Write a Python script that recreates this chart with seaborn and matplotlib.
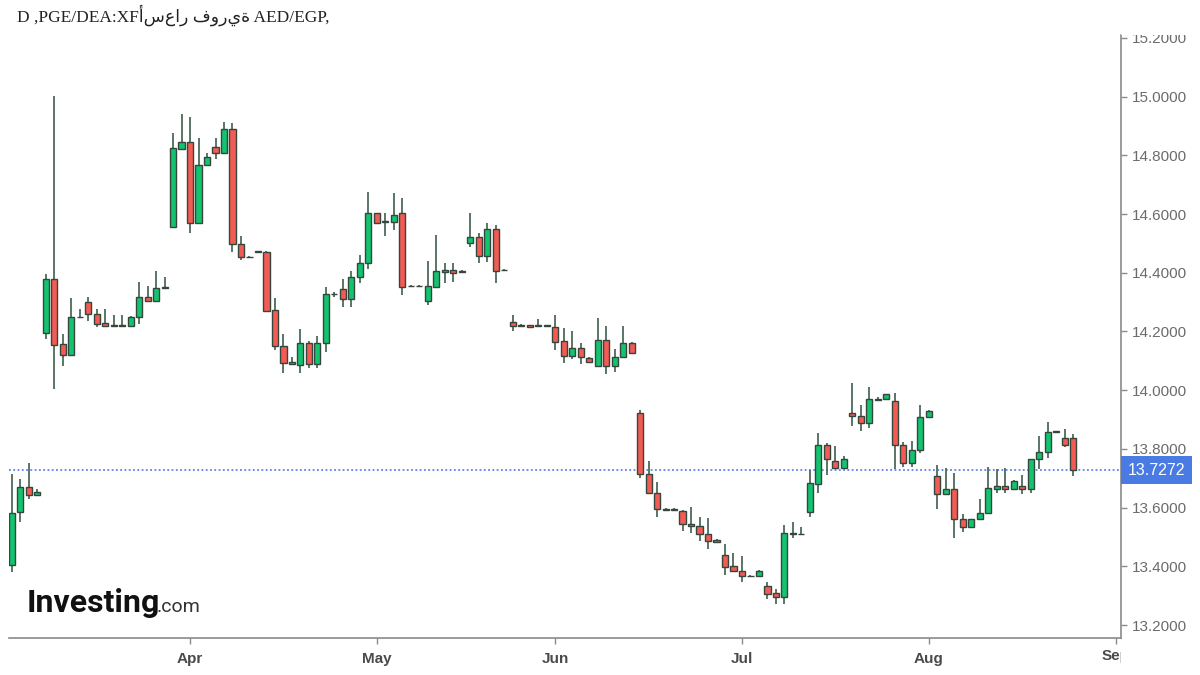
import numpy as np
import pandas as pd
import matplotlib
matplotlib.use("Agg")
import matplotlib.pyplot as plt
import seaborn as sns
from matplotlib.patches import Rectangle
from matplotlib.transforms import Bbox, TransformedBbox, blended_transform_factory, offset_copy

# AED/EGP daily candles, Mar -> late Aug
opens = [
    13.404, 13.586, 13.670, 13.643, 14.195, 14.379, 14.157, 14.120, 14.248, 14.300,
    14.260, 14.229, 14.223, 14.220, 14.220, 14.249, 14.318, 14.304, 14.348, 14.557,
    14.823, 14.846, 14.569, 14.767, 14.830, 14.807, 14.890, 14.498, 14.454, 14.470,
    14.472, 14.273, 14.151, 14.096, 14.085, 14.162, 14.089, 14.160, 14.326, 14.345,
    14.310, 14.387, 14.432, 14.603, 14.573, 14.574, 14.603, 14.354, 14.354, 14.304,
    14.353, 14.404, 14.410, 14.403, 14.501, 14.521, 14.458, 14.548, 14.408, 14.232,
    14.222, 14.221, 14.219, 14.219, 14.216, 14.168, 14.118, 14.145, 14.111, 14.083,
    14.171, 14.083, 14.112, 14.162, 13.923, 13.714, 13.649, 13.595, 13.593, 13.589,
    13.544, 13.537, 13.510, 13.490, 13.439, 13.401, 13.384, 13.366, 13.367, 13.333,
    13.308, 13.294, 13.514, 13.509, 13.586, 13.680, 13.813, 13.759, 13.734, 13.921,
    13.912, 13.889, 13.970, 13.969, 13.963, 13.813, 13.753, 13.796, 13.907, 13.708,
    13.646, 13.663, 13.560, 13.533, 13.560, 13.581, 13.663, 13.675, 13.663, 13.675,
    13.663, 13.765, 13.790, 13.858, 13.836, 13.836,
]
highs = [
    13.714, 13.697, 13.753, 13.663, 14.396, 15.003, 14.191, 14.314, 14.278, 14.319,
    14.278, 14.278, 14.256, 14.256, 14.252, 14.369, 14.356, 14.406, 14.386, 14.875,
    14.941, 14.930, 14.858, 14.807, 14.858, 14.913, 14.909, 14.526, 14.456, 14.474,
    14.474, 14.313, 14.190, 14.112, 14.207, 14.167, 14.185, 14.351, 14.335, 14.378,
    14.407, 14.461, 14.676, 14.605, 14.605, 14.671, 14.654, 14.358, 14.358, 14.440,
    14.529, 14.432, 14.432, 14.408, 14.605, 14.535, 14.571, 14.563, 14.412, 14.256,
    14.224, 14.223, 14.242, 14.223, 14.256, 14.211, 14.203, 14.162, 14.113, 14.245,
    14.219, 14.139, 14.219, 14.164, 13.933, 13.760, 13.688, 13.597, 13.597, 13.591,
    13.601, 13.567, 13.564, 13.492, 13.475, 13.446, 13.435, 13.370, 13.386, 13.348,
    13.322, 13.541, 13.550, 13.535, 13.728, 13.855, 13.821, 13.810, 13.776, 14.026,
    13.950, 14.010, 13.976, 13.988, 13.991, 13.825, 13.828, 13.950, 13.931, 13.745,
    13.734, 13.717, 13.578, 13.562, 13.628, 13.737, 13.730, 13.734, 13.694, 13.711,
    13.767, 13.844, 13.893, 13.862, 13.867, 13.851,
]
lows = [
    13.382, 13.552, 13.629, 13.643, 14.174, 14.004, 14.082, 14.118, 14.246, 14.237,
    14.215, 14.219, 14.219, 14.219, 14.218, 14.226, 14.303, 14.300, 14.347, 14.555,
    14.822, 14.535, 14.567, 14.765, 14.787, 14.805, 14.472, 14.444, 14.450, 14.469,
    14.268, 14.137, 14.060, 14.088, 14.060, 14.076, 14.076, 14.131, 14.318, 14.285,
    14.285, 14.364, 14.412, 14.567, 14.525, 14.546, 14.324, 14.352, 14.352, 14.290,
    14.352, 14.364, 14.370, 14.400, 14.489, 14.434, 14.438, 14.364, 14.406, 14.203,
    14.218, 14.213, 14.218, 14.217, 14.137, 14.094, 14.105, 14.089, 14.093, 14.081,
    14.055, 14.063, 14.110, 14.126, 13.700, 13.647, 13.569, 13.591, 13.591, 13.520,
    13.512, 13.487, 13.458, 13.481, 13.370, 13.382, 13.348, 13.364, 13.365, 13.288,
    13.272, 13.272, 13.495, 13.507, 13.569, 13.651, 13.711, 13.731, 13.732, 13.878,
    13.862, 13.870, 13.967, 13.967, 13.730, 13.737, 13.737, 13.785, 13.905, 13.595,
    13.644, 13.495, 13.518, 13.531, 13.558, 13.579, 13.649, 13.651, 13.661, 13.646,
    13.651, 13.730, 13.768, 13.856, 13.805, 13.708,
]
closes = [
    13.583, 13.671, 13.643, 13.654, 14.379, 14.154, 14.120, 14.250, 14.250, 14.260,
    14.226, 14.220, 14.220, 14.222, 14.249, 14.318, 14.305, 14.348, 14.350, 14.825,
    14.846, 14.569, 14.767, 14.796, 14.807, 14.890, 14.497, 14.453, 14.452, 14.472,
    14.271, 14.151, 14.094, 14.089, 14.162, 14.089, 14.162, 14.327, 14.327, 14.310,
    14.387, 14.432, 14.603, 14.569, 14.575, 14.597, 14.353, 14.356, 14.356, 14.355,
    14.406, 14.410, 14.398, 14.405, 14.521, 14.458, 14.548, 14.407, 14.410, 14.219,
    14.220, 14.215, 14.221, 14.221, 14.165, 14.117, 14.145, 14.112, 14.095, 14.171,
    14.083, 14.112, 14.162, 14.128, 13.714, 13.649, 13.594, 13.593, 13.595, 13.543,
    13.537, 13.510, 13.487, 13.483, 13.399, 13.384, 13.367, 13.368, 13.384, 13.306,
    13.294, 13.514, 13.509, 13.511, 13.683, 13.813, 13.765, 13.734, 13.765, 13.913,
    13.889, 13.969, 13.968, 13.986, 13.813, 13.753, 13.796, 13.908, 13.929, 13.646,
    13.663, 13.560, 13.533, 13.560, 13.581, 13.666, 13.675, 13.663, 13.692, 13.663,
    13.765, 13.790, 13.859, 13.860, 13.813, 13.7272,
]

# trading sessions per month (Mar..Aug) and the month labels that follow them
sessions_per_month = [21, 22, 21, 22, 22, 22]
month_labels = ["Apr", "May", "Jun", "Jul", "Aug", "Sep"]
last_price = 13.7272
title = "D ,PGE/DEA:XFأسعار فورية AED/EGP,"

df = pd.DataFrame({"open": opens, "high": highs, "low": lows, "close": closes})
df["pos"] = np.arange(len(df))
df["up"] = df["close"] >= df["open"]

sns.set_theme(style="white")
plt.rcParams["font.family"] = ["Liberation Sans", "DejaVu Sans"]

GREEN = "#12c46f"
RED = "#f25c54"
EDGE = "#37463d"
WICK = "#4d6a59"
AXIS = "#8a8a8a"

fig = plt.figure(figsize=(12, 6.75), dpi=100)
fig.patch.set_facecolor("white")
ax = fig.add_axes([9 / 1200, 1 - 638.3 / 675, 1111.7 / 1200, 603.3 / 675])
ax.set_facecolor("white")

# last price guide line
ax.axhline(last_price, color="#3f6fe0", lw=1.1, ls=(0, (1.2, 1.6)), zorder=0.5)

# wicks
ax.vlines(df["pos"], df["low"], df["high"], color=WICK, lw=1.3, zorder=1)

# bodies
body_h = (df["close"] - df["open"]).abs().clip(lower=0.0025)
body_b = df[["open", "close"]].min(axis=1)
ax.bar(df["pos"], body_h, bottom=body_b, width=0.72,
       color=np.where(df["up"], GREEN, RED), edgecolor=EDGE, linewidth=1.0, zorder=2)

# axes ranges
ax.set_xlim(-0.32, 130.6)
ax.set_ylim(13.1547, 15.210)

# y axis on the right
yt = np.round(np.arange(13.2, 15.21, 0.2), 1)
ax.yaxis.tick_right()
ax.set_yticks(yt)
ax.set_yticklabels([f"{v:.4f}" for v in yt])
ax.tick_params(axis="y", which="both", direction="out", length=4, width=1,
               color=AXIS, labelcolor="#6b6b6b", labelsize=11, pad=4, right=True, left=False)

# month ticks at the first session of each month
month_pos = np.cumsum(sessions_per_month)
ax.set_xticks(month_pos)
ax.set_xticklabels(month_labels[:-1] + [""])
ax.tick_params(axis="x", direction="out", length=4, width=1, color=AXIS,
               labelcolor="#4a4a4a", labelsize=11, pad=6, bottom=True)
for lab in ax.get_xticklabels():
    lab.set_fontweight("bold")

# last month label is cut by the price scale
trans = blended_transform_factory(ax.transData, ax.transAxes)
sep = ax.text(month_pos[-1], -0.0172, month_labels[-1], transform=trans,
              ha="center", va="top", fontsize=11, fontweight="bold", color="#4a4a4a",
              clip_on=True)
sep.set_clip_box(TransformedBbox(Bbox([[0, -0.2], [1, 1]]), ax.transAxes))

for side in ["top", "left"]:
    ax.spines[side].set_visible(False)
for side in ["right", "bottom"]:
    ax.spines[side].set_color(AXIS)
    ax.spines[side].set_linewidth(1.2)
ax.grid(False)

# price tag
tag_trans = offset_copy(blended_transform_factory(ax.transAxes, ax.transData),
                        fig=fig, x=7.5, y=0, units="dots")
ax.text(1.0, last_price, f"{last_price:.4f}", transform=tag_trans,
        ha="left", va="center", fontsize=11.5, color="white", zorder=5,
        bbox=dict(boxstyle="square,pad=0.42", fc="#4a7be3", ec="none"),
        clip_on=False)

# hide scale above the plotting area
fig.add_artist(Rectangle((1121 / 1200, 640 / 675), 79 / 1200, 35 / 675,
                         transform=fig.transFigure, fc="white", ec="none", zorder=10))

# title
fig.text(17 / 1200, 1 - 22 / 675, title, fontsize=12.5, color="#222222",
         family=["Liberation Serif", "DejaVu Sans"], ha="left", va="baseline")

# watermark
fig.text(27 / 1200, 1 - 612 / 675, "Investing", fontsize=23, fontweight="bold",
         family=["Roboto", "DejaVu Sans"], color="#111111", ha="left", va="baseline")
fig.text(157 / 1200, 1 - 612 / 675, ".com", fontsize=14,
         family=["Roboto", "DejaVu Sans"], color="#333333", ha="left", va="baseline")

fig.savefig("out.png", dpi=100, facecolor="white")
